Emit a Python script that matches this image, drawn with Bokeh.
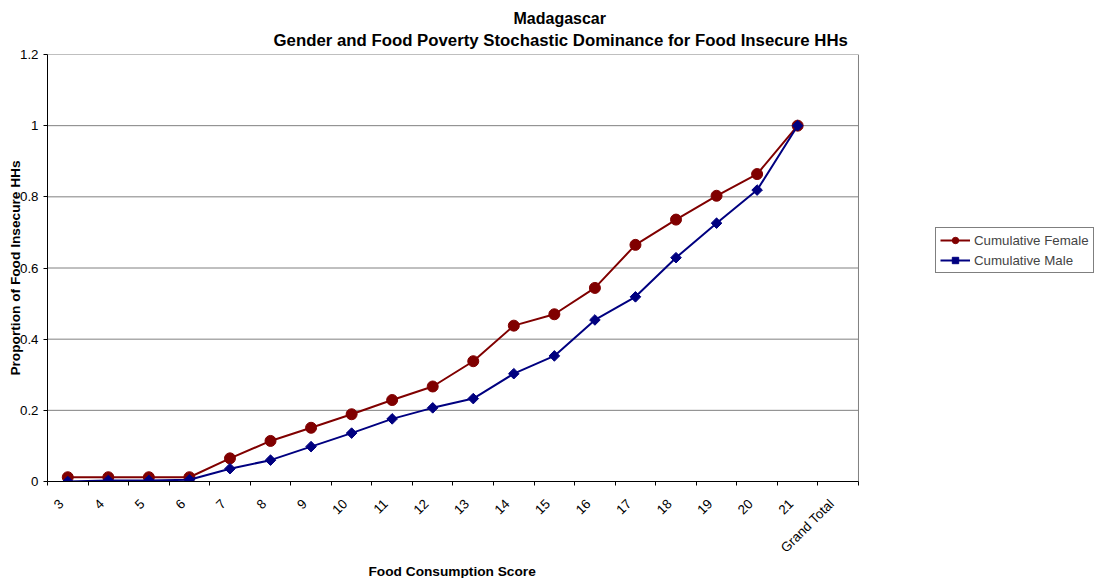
import numpy as np

from bokeh.plotting import figure
from bokeh.models import Range1d, FixedTicker, Title, Legend, LegendItem
from bokeh.embed import file_html
from bokeh.resources import INLINE

# x categories (food consumption score)
categories = ["3", "4", "5", "6", "7", "8", "9", "10", "11", "12", "13",
              "14", "15", "16", "17", "18", "19", "20", "21", "Grand Total"]

# cumulative proportions, scores 3..21 (Grand Total has no value)
cum_female = [0.012, 0.012, 0.012, 0.012, 0.065, 0.114, 0.151, 0.189, 0.229,
              0.267, 0.338, 0.438, 0.470, 0.544, 0.665, 0.736, 0.803, 0.864, 1.0]
cum_male = [0.0, 0.003, 0.003, 0.005, 0.036, 0.060, 0.098, 0.136, 0.176,
            0.207, 0.233, 0.303, 0.353, 0.454, 0.519, 0.629, 0.726, 0.819, 1.0]

y_ticks = [0, 0.2, 0.4, 0.6, 0.8, 1, 1.2]
y_tick_labels = ["0", "0.2", "0.4", "0.6", "0.8", "1", "1.2"]

FONT = "Liberation Sans"
GRID = "#808080"

n = len(categories)
x_idx = list(range(len(cum_female)))
edge = n - 0.5
# rotated labels end a little left of the category centre (excel style)
label_pos = [i - 0.16 for i in range(n)]

# the frame runs to the right edge so the legend can live inside it;
# the plot area itself stops after the last category
p = figure(width=1096, height=578, output_backend="svg", toolbar_location=None,
           x_range=Range1d(-0.5, 25.37),
           y_range=Range1d(0, 1.2),
           min_border_left=47, min_border_right=0,
           min_border_top=54, min_border_bottom=97)
p.outline_line_color = None
p.background_fill_color = "white"
p.xgrid.grid_line_color = None
p.ygrid.grid_line_color = None

# x axis: labels at category centres, tick marks between categories
p.xaxis.ticker = FixedTicker(ticks=label_pos,
                             minor_ticks=[i - 0.5 for i in range(n + 1)])
p.xaxis.bounds = (-0.5, edge)
p.xaxis.major_label_overrides = dict(zip(label_pos, categories))
p.xaxis.major_label_orientation = np.pi / 4
p.xaxis.major_tick_out = 0
p.xaxis.major_tick_in = 0
p.xaxis.minor_tick_out = 4
p.xaxis.minor_tick_in = 0
p.xaxis.minor_tick_line_color = "black"
p.xaxis.major_label_standoff = 16

p.yaxis.ticker = FixedTicker(ticks=y_ticks)
p.yaxis.major_label_overrides = dict(zip(y_ticks, y_tick_labels))
p.yaxis.major_tick_out = 4
p.yaxis.major_tick_in = 0
p.yaxis.major_label_standoff = 5
p.yaxis.axis_label = "Proportion of Food Insecure HHs"
p.yaxis.axis_label_standoff = -6

for ax in [p.xaxis, p.yaxis]:
    ax.axis_line_color = "black"
    ax.major_tick_line_color = "black"
    ax.major_label_text_font = FONT
    ax.major_label_text_font_size = "13.3px"
    ax.major_label_text_color = "black"
    ax.axis_label_text_font = FONT
    ax.axis_label_text_font_size = "13.7px"
    ax.axis_label_text_font_style = "bold"
    ax.axis_label_text_color = "black"

# gridlines and right border of the plot area, kept inside the plot area
gy = y_ticks[1:]
p.segment(x0=[-0.5] * len(gy), y0=gy, x1=[edge] * len(gy), y1=gy,
          line_color=GRID, line_width=1, level="underlay")
p.segment(x0=[edge], y0=[y_ticks[0]], x1=[edge], y1=[y_ticks[-1]],
          line_color=GRID, line_width=1, level="underlay")

# series
lf = p.line(x_idx, cum_female, line_color="#800000", line_width=2)
sf = p.scatter(x_idx, cum_female, marker="circle", size=11,
               fill_color="#800000", line_color="#800000")
lm = p.line(x_idx, cum_male, line_color="#000080", line_width=2)
sm = p.scatter(x_idx, cum_male, marker="square", angle=np.pi / 4, size=7.5,
               fill_color="#000080", line_color="#000080")

legend = Legend(items=[LegendItem(label="Cumulative Female", renderers=[lf, sf]),
                       LegendItem(label="Cumulative Male", renderers=[lm, sm])],
                location=(888, 208),
                border_line_color="black", border_line_width=1,
                background_fill_color="white", background_fill_alpha=1,
                label_text_font=FONT, label_text_font_size="13.3px",
                glyph_width=30, glyph_height=16, label_height=16,
                label_standoff=4, padding=4, spacing=4, margin=0)
p.add_layout(legend)

# x axis title, placed under the plot area
p.add_layout(Title(text="Food Consumption Score", align="left", offset=321, standoff=-4,
                   text_font=FONT, text_font_size="13.7px", text_font_style="bold",
                   text_color="black"), "below")

# two-line chart title, lower line first (closest to the plot)
p.add_layout(Title(text="Gender and Food Poverty Stochastic Dominance for Food Insecure HHs",
                   align="left", offset=226, standoff=10,
                   text_font=FONT, text_font_size="16.8px", text_font_style="bold",
                   text_color="black"), "above")
p.add_layout(Title(text="Madagascar", align="left", offset=466, standoff=-6,
                   text_font=FONT, text_font_size="16px", text_font_style="bold",
                   text_color="black"), "above")

open("out.html", "w").write(file_html(p, INLINE))
